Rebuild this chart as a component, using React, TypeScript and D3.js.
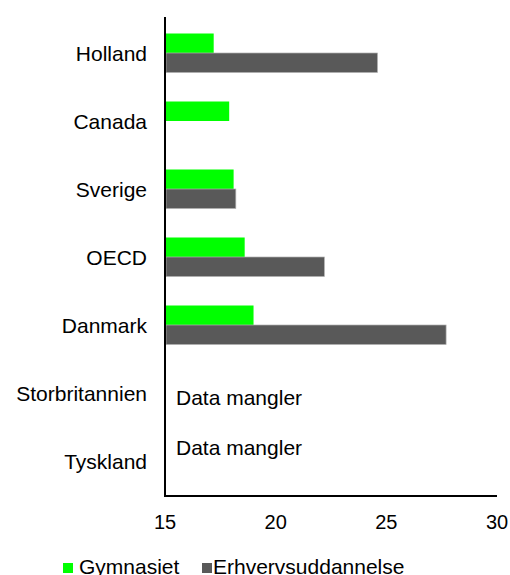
import React from "react";
import * as d3 from "d3";

const categories = ["Holland", "Canada", "Sverige", "OECD", "Danmark", "Storbritannien", "Tyskland"];
const seriesNames = ["Gymnasiet", "Erhvervsuddannelse"];
const gymnasiet: (number | null)[] = [17.2, 17.9, 18.1, 18.6, 19.0, null, null];
const erhverv: (number | null)[] = [24.6, null, 18.2, 22.2, 27.7, null, null];
const xTicks = [15, 20, 25, 30];
const missingLabel = "Data mangler";
const colors = ["#00ff00", "#595959"];

const W = 510, H = 575;
const FONT = "Arial, 'Liberation Sans', sans-serif";

export default function App() {
  const x = d3.scaleLinear().domain([15, 30]).range([165, 497]);
  const p = 29 / 68;
  const y = d3.scaleBand<string>().domain(categories).range([19, 495]).paddingInner(p).paddingOuter(p / 2);
  const ys = d3.scaleBand<string>().domain(seriesNames).range([0, y.bandwidth()]);
  const series = [gymnasiet, erhverv];

  return (
    <svg width={W} height={H} style={{ position: "absolute", left: 0, top: 0 }} fontFamily={FONT}>
      <rect width={W} height={H} fill="#fff" />
      {categories.map((c, i) => {
        const cy = (y(c) as number) + y.bandwidth() / 2;
        const allMissing = series.every((s) => s[i] == null);
        return (
          <g key={c}>
            {series.map((s, si) =>
              s[i] == null ? null : (
                <rect
                  key={si}
                  x={x(15) + 1}
                  y={(y(c) as number) + (ys(seriesNames[si]) as number)}
                  width={x(s[i] as number) - x(15) - 1}
                  height={ys.bandwidth()}
                  fill={colors[si]}
                  stroke={si === 1 ? "#b0b0b0" : "none"}
                  strokeWidth={0.7}
                />
              )
            )}
            <text x={147} y={cy + 7.5} textAnchor="end" fontSize={21} fill="#000">
              {c}
            </text>
            {allMissing && (
              <text x={176} y={cy + (i === 5 ? 12 : -6.5)} fontSize={21} fill="#000">
                {missingLabel}
              </text>
            )}
          </g>
        );
      })}
      <line x1={165} x2={165} y1={17} y2={497} stroke="#000" strokeWidth={2} />
      <line x1={164} x2={x(30)} y1={496} y2={496} stroke="#000" strokeWidth={2} />
      {xTicks.map((t) => (
        <text key={t} x={x(t)} y={529} textAnchor="middle" fontSize={20} fill="#000">
          {t}
        </text>
      ))}
      <g>
        <rect x={63} y={563} width={10} height={10} fill={colors[0]} />
        <text x={79} y={574} fontSize={21} fill="#000">{seriesNames[0]}</text>
        <rect x={202} y={563} width={10} height={10} fill={colors[1]} />
        <text x={213} y={574} fontSize={21} fill="#000">{seriesNames[1]}</text>
      </g>
    </svg>
  );
}
